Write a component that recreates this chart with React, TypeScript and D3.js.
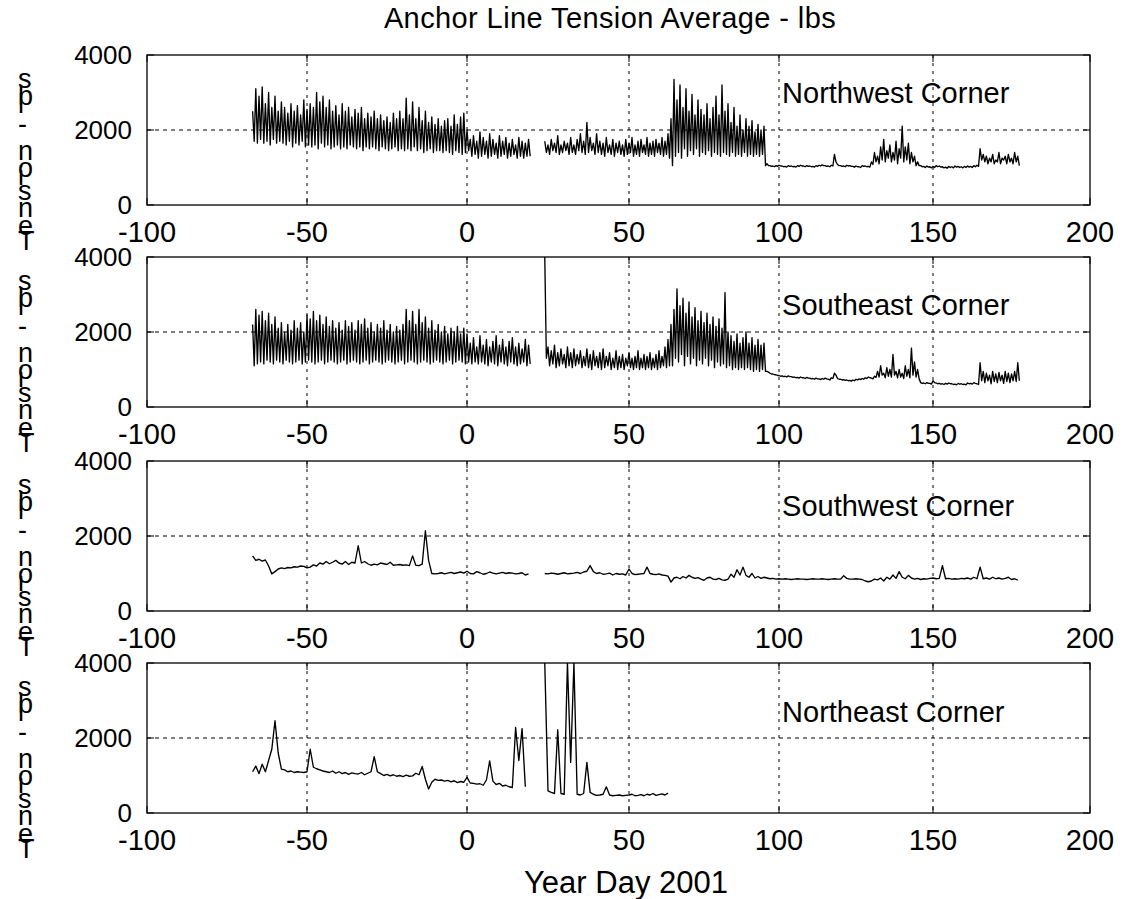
import React from 'react';
import * as d3 from 'd3';

// axis ticks
const xTicks = [-100, -50, 0, 50, 100, 150, 200];
const yTicks = [0, 2000, 4000];
const cornerNames = ['Northwest Corner', 'Southeast Corner', 'Southwest Corner', 'Northeast Corner'];

// records start here (day), second block starts after the data gap
const firstDay = -67;
const secondDay = 24;

// Northwest: daily peak / trough of the tension signal
const nwHigh1 = [
  2500, 3100, 2900, 3150, 2700, 3000, 2600, 2900, 2500, 2750,
  2600, 2450, 2700, 2500, 2650, 2400, 2800, 2550, 2700, 2600,
  3000, 2750, 2900, 2600, 2800, 2500, 2650, 2400, 2700, 2500,
  2600, 2350, 2550, 2450, 2600, 2300, 2450, 2350, 2500, 2300,
  2400, 2250, 2350, 2200, 2450, 2300, 2500, 2300, 2850, 2400,
  2750, 2300, 2600, 2250, 2500, 2200, 2350, 2150, 2300, 2100,
  2250, 2300, 2100, 2400, 2150, 2350, 2450, 2000, 1750, 1850,
  1700, 1950, 1800, 1700, 1900, 1750, 1650, 1850, 1700, 1800,
  1650, 1750, 1600, 1800, 1700, 1650, 1750,
];
const nwLow1 = [
  1700, 1650, 1750, 1650, 1700, 1600, 1750, 1650, 1700, 1650,
  1600, 1700, 1550, 1650, 1600, 1700, 1550, 1600, 1550, 1600,
  1500, 1650, 1550, 1600, 1500, 1550, 1600, 1500, 1550, 1500,
  1600, 1550, 1500, 1550, 1450, 1550, 1500, 1550, 1500, 1450,
  1550, 1500, 1450, 1500, 1550, 1450, 1500, 1450, 1500, 1450,
  1550, 1450, 1500, 1400, 1450, 1500, 1400, 1450, 1450, 1400,
  1450, 1400, 1350, 1450, 1400, 1350, 1400, 1450, 1300, 1350,
  1250, 1300, 1350, 1250, 1300, 1350, 1250, 1300, 1350, 1250,
  1300, 1350, 1250, 1300, 1250, 1300, 1300,
];
const nwHigh2 = [
  1700, 1600, 1750, 1650, 1850, 1600, 1700, 1650, 1800, 1600,
  1750, 1900, 1700, 2200, 1800, 1650, 1900, 1700, 1650, 1800,
  1600, 1750, 1650, 1700, 1600, 1750, 1650, 1800, 1600, 1700,
  1750, 1600, 1800, 1650, 1700, 1750, 1650, 1800, 1700, 1900,
  2300, 3350, 2800, 3200, 2600, 3100, 2500, 2950, 2400, 2800,
  2550, 2400, 2700, 2300, 2600, 2900, 2400, 3200, 2500, 2700,
  2200, 2600, 2100, 2400, 2000, 2300, 2100, 2250, 1950, 2150, 2000, 2100,
  1100, 1050, 1040, 1050, 1060, 1040, 1030, 1050, 1040, 1030,
  1050, 1060, 1040, 1050, 1040, 1030, 1050, 1060, 1070, 1050,
  1040, 1060, 1350, 1080, 1050, 1040, 1060, 1050, 1030, 1040,
  1020, 1050, 1040, 1030, 1150,
  1400, 1300, 1550, 1750, 1450, 1600, 1400, 1700, 1500, 2100, 1550, 1650, 1400, 1300, 1150,
  1050, 1030, 1040, 1020, 1030, 1050, 1040, 1020, 1010, 1030,
  1020, 1040, 1030, 1020, 1030, 1040, 1030, 1050, 1060,
  1500, 1350, 1300, 1250, 1350, 1200, 1400, 1250, 1300, 1350, 1250, 1400, 1300,
];
const nwLow2 = [
  1400, 1350, 1450, 1400, 1350, 1400, 1450, 1350, 1400, 1350,
  1450, 1400, 1350, 1400, 1450, 1350, 1400, 1350, 1300, 1400,
  1350, 1300, 1400, 1350, 1300, 1350, 1400, 1300, 1350, 1300,
  1400, 1350, 1300, 1350, 1300, 1400, 1350, 1300, 1350, 1250,
  1050, 1300, 1400, 1250, 1500, 1300, 1450, 1350, 1500, 1300,
  1400, 1350, 1450, 1300, 1400, 1350, 1300, 1400, 1350, 1300,
  1400, 1300, 1350, 1300, 1400, 1300, 1350, 1300, 1350, 1300, 1350, 1050,
  1050, 1030, 1020, 1030, 1040, 1020, 1010, 1030, 1020, 1010,
  1030, 1040, 1020, 1030, 1020, 1010, 1030, 1040, 1050, 1030,
  1020, 1040, 1150, 1050, 1030, 1020, 1040, 1030, 1010, 1020,
  1000, 1030, 1020, 1010, 1080,
  1150, 1100, 1200, 1150, 1250, 1150, 1200, 1100, 1250, 1150, 1200, 1100, 1150, 1050, 1050,
  1020, 1000, 1010, 990, 1000, 1020, 1010, 990, 980, 1000,
  990, 1010, 1000, 990, 1000, 1010, 1000, 1020, 1030,
  1200, 1150, 1100, 1150, 1100, 1150, 1100, 1200, 1100, 1150, 1100, 1150, 1050,
];

// Southeast
const seHigh1 = [
  2200, 2600, 2450, 2550, 2300, 2500, 2200, 2400, 2100, 2250,
  2000, 2200, 2050, 2300, 2100, 2250, 2000, 2450, 2350, 2550,
  2300, 2450, 2200, 2400, 2150, 2300, 2100, 2250, 2050, 2300,
  2150, 2250, 2050, 2300, 2200, 2350, 2100, 2250, 2000, 2200,
  2100, 2300, 2050, 2200, 2000, 2150, 2050, 2200, 2600, 2300,
  2550, 2200, 2600, 2250, 2400, 2100, 2300, 2050, 2200, 2000,
  2150, 1950, 2100, 2000, 2150, 1950, 2100, 1950, 1700, 1850,
  1600, 1900, 1650, 1800, 1600, 1750, 1900, 1650, 1800, 1600,
  1750, 1850, 1600, 1700, 1550, 1800, 1650,
];
const seLow1 = [
  1100, 1150, 1200, 1150, 1250, 1200, 1150, 1250, 1200, 1150,
  1250, 1200, 1150, 1200, 1250, 1150, 1200, 1250, 1200, 1150,
  1200, 1250, 1150, 1200, 1250, 1200, 1150, 1200, 1250, 1150,
  1200, 1250, 1200, 1150, 1200, 1250, 1150, 1200, 1250, 1200,
  1150, 1200, 1250, 1200, 1150, 1200, 1250, 1150, 1200, 1250,
  1200, 1150, 1200, 1250, 1200, 1150, 1200, 1250, 1200, 1150,
  1200, 1250, 1150, 1200, 1250, 1200, 1150, 1200, 1150, 1200,
  1150, 1200, 1150, 1100, 1200, 1150, 1100, 1200, 1150, 1100,
  1200, 1150, 1100, 1150, 1200, 1100, 1150,
];
const seHigh2 = [
  4000, 1600, 1500, 1650, 1450, 1550, 1400, 1600, 1450, 1550,
  1400, 1500, 1350, 1550, 1400, 1500, 1350, 1450, 1550, 1350,
  1450, 1300, 1500, 1350, 1400, 1300, 1450, 1300, 1350, 1500,
  1300, 1400, 1350, 1450, 1300, 1400, 1500, 1350, 1600, 1800,
  2200, 2600, 3150, 2700, 2900, 2500, 2800, 2400, 2650, 2300,
  2550, 2250, 2500, 2200, 2400, 2150, 2350, 2100, 3050, 2000,
  1900, 1750, 1950, 1700, 1850, 2000, 1700, 1850, 1650, 1800, 1650, 1700,
  950, 900, 880, 860, 840, 830, 820, 830, 810, 800,
  790, 800, 780, 790, 770, 760, 770, 750, 760, 770,
  740, 780, 900, 760, 740, 730, 720, 710, 720, 740,
  750, 760, 780, 800, 770, 820,
  950, 1100, 900, 1050, 1000, 1400, 950, 1000, 900, 1100, 1000, 1570, 1200, 1000,
  650, 640, 650, 630, 700, 640, 630, 620, 630, 640,
  620, 610, 630, 620, 610, 640, 630, 650, 620,
  1180, 950, 900, 850, 950, 880, 920, 850, 950, 900, 880, 950, 1180,
];
const seLow2 = [
  1300, 1100, 1150, 1050, 1100, 1150, 1050, 1100, 1050, 1100,
  1150, 1050, 1100, 1050, 1000, 1100, 1050, 1000, 1050, 1100,
  1000, 1050, 1000, 1050, 1000, 1100, 1050, 1000, 1050, 1000,
  1050, 1000, 1050, 1000, 1050, 1000, 1050, 1100, 1050, 1100,
  1100, 1300, 1200, 1400, 1100, 1350, 1150, 1300, 1100, 1250,
  1150, 1300, 1100, 1250, 1050, 1200, 1100, 1150, 1050, 1100,
  1000, 1050, 1000, 1050, 1000, 1050, 1000, 950, 1000, 950, 1000, 950,
  930, 880, 860, 840, 820, 810, 800, 810, 790, 780,
  770, 780, 760, 770, 750, 740, 750, 730, 740, 750,
  720, 760, 850, 740, 720, 710, 700, 690, 700, 720,
  730, 740, 760, 780, 750, 790,
  800, 850, 780, 820, 800, 850, 780, 800, 760, 820, 780, 850, 800, 750,
  630, 620, 630, 610, 650, 620, 610, 600, 610, 620,
  600, 590, 610, 600, 590, 620, 610, 630, 600,
  700, 650, 700, 620, 680, 650, 700, 630, 680, 650, 700, 680, 700,
];

// Southwest: daily values
const swVals1 = [
  1470, 1350, 1380, 1330, 1360, 1200, 990, 1050, 1120, 1150,
  1130, 1160, 1150, 1180, 1170, 1200, 1190, 1150, 1170, 1230,
  1200, 1280, 1250, 1320, 1260, 1300, 1350, 1280, 1250, 1320,
  1240, 1300, 1280, 1740, 1280, 1320, 1260, 1220, 1250, 1230,
  1280, 1260, 1240, 1300, 1220, 1230, 1240, 1220, 1230, 1210,
  1470, 1220, 1210, 1250, 2140, 1350, 1000, 990, 1000, 1020,
  990, 1010, 1030, 1000, 1020, 1040, 1010, 1060, 1000, 990,
  1050, 1020, 980, 1000, 1040, 1010, 990, 1010, 1030, 1000,
  1020, 1010, 990, 1000, 1020, 960, 990,
];
const swVals2 = [
  1000, 990, 1010, 1000, 980, 1000, 1020, 990, 1000, 1010,
  1030, 1000, 1040, 1060, 1210, 1050, 1000, 1020, 980, 990,
  1010, 960, 1000, 980, 990, 960, 1120, 1000, 970, 980,
  990, 1000, 1170, 1000, 980, 970, 990, 960, 950, 930,
  770, 880, 900, 860, 920, 880, 950, 900, 870, 890,
  850, 820, 880, 900, 850, 840, 870, 830, 820, 850,
  980, 900, 1100, 960, 1170, 950, 900, 1000, 880, 920,
  870, 900, 880, 860, 870, 850, 860, 850, 860, 850,
  840, 850, 860, 850, 850, 840, 850, 860, 850, 850,
  860, 850, 840, 850, 860, 850, 850, 940, 870, 850,
  850, 860, 850, 840, 800, 780, 800, 850, 830, 880,
  800, 900, 850, 960, 870, 1050, 900, 860, 950, 880,
  850, 870, 840, 860, 850, 870, 880, 860, 870, 1210,
  860, 870, 850, 860, 850, 870, 860, 880, 850, 900,
  860, 1170, 860, 880, 850, 900, 860, 880, 850, 870,
  900, 840, 860, 820,
];

// Northeast: daily values
const neVals1 = [
  1100, 1250, 1050, 1300, 1100, 1400, 1700, 2460, 1600, 1170,
  1150, 1100, 1120, 1080, 1100, 1090, 1080, 1100, 1700, 1220,
  1180, 1150, 1120, 1100, 1080, 1120, 1060, 1100, 1050, 1080,
  1030, 1070, 1050, 1040, 1080, 1020, 1060, 1100, 1500, 1100,
  1050, 1000, 1030, 990, 1020, 980, 1000, 970, 1010, 980,
  990, 1060, 1020, 1240, 900, 640, 820, 900, 870, 880,
  850, 870, 830, 860, 810, 840, 820, 950, 800, 790,
  770, 780, 740, 880, 1390, 850, 760, 790, 720, 740,
  700, 680, 2280, 1400, 2250, 700,
];
const neVals2 = [
  4000, 590, 550, 520, 2220, 520, 500, 4000, 1350, 4000,
  500, 480, 520, 1350, 550, 500, 470, 480, 500, 700,
  480, 460, 470, 480, 460, 470, 480, 500, 460, 470,
  490, 460, 500, 480, 520, 470, 490, 510, 480, 530,
];

const W = 1148;
const H = 899;
const plotH = 150;
const panelTops = [55, 257, 461, 663];
const cornerLabelY = [2720, 2450, 2530, 2430];
const font = '"Liberation Sans", Arial, Helvetica, sans-serif';

// one peak and one trough per day
const zigzag = (start: number, hi: number[], lo: number[]) =>
  hi.flatMap((h, i) => [[start + i, h], [start + i + 0.5, lo[i]]]);
const daily = (start: number, vals: number[]) => vals.map((v, i) => [start + i, v]);

const series = [
  [zigzag(firstDay, nwHigh1, nwLow1), zigzag(secondDay, nwHigh2, nwLow2)],
  [zigzag(firstDay, seHigh1, seLow1), zigzag(secondDay, seHigh2, seLow2)],
  [daily(firstDay, swVals1), daily(secondDay, swVals2)],
  [daily(firstDay, neVals1), daily(secondDay, neVals2)],
];

// the scanned axes are slightly uneven, so follow the printed tick positions
const x = d3.scaleLinear().domain(xTicks).range([147, 307, 467, 629, 779, 933, 1090]);
const plotLeft = x(-100);
const plotRight = x(200);

const Panel = ({ idx }: { idx: number }) => {
  const top = panelTops[idx];
  const y = d3.scaleLinear().domain([0, 4000]).range([top + plotH, top]);
  const line = d3.line<number[]>().x(d => x(d[0])).y(d => y(d[1]));
  const tick = 7;

  return (
    <g>
      <defs>
        <clipPath id={`clip${idx}`}>
          <rect x={plotLeft} y={top} width={plotRight - plotLeft} height={plotH} />
        </clipPath>
      </defs>
      {/* grid */}
      {xTicks.slice(1, -1).map(t => (
        <line key={'gx' + t} x1={x(t)} x2={x(t)} y1={top} y2={top + plotH}
          stroke="#000" strokeWidth={1} strokeDasharray="3,5" />
      ))}
      <line x1={plotLeft} x2={plotRight} y1={y(2000)} y2={y(2000)}
        stroke="#000" strokeWidth={1} strokeDasharray="4,4" />

      <g clipPath={`url(#clip${idx})`}>
        {series[idx].map((seg, i) => (
          <path key={i} d={line(seg) || ''} fill="none" stroke="#000" strokeWidth={1.35} strokeLinejoin="round" />
        ))}
      </g>

      <rect x={plotLeft} y={top} width={plotRight - plotLeft} height={plotH} fill="none" stroke="#000" strokeWidth={1.3} />

      {xTicks.map(t => (
        <g key={'tx' + t}>
          <line x1={x(t)} x2={x(t)} y1={top + plotH} y2={top + plotH - tick} stroke="#000" />
          <line x1={x(t)} x2={x(t)} y1={top} y2={top + tick} stroke="#000" />
          <text x={x(t)} y={top + plotH + 37} textAnchor="middle" fontSize={29} fontFamily={font}>{t}</text>
        </g>
      ))}
      {yTicks.map(t => (
        <g key={'ty' + t}>
          <line x1={plotLeft} x2={plotLeft + tick} y1={y(t)} y2={y(t)} stroke="#000" />
          <line x1={plotRight} x2={plotRight - tick} y1={y(t)} y2={y(t)} stroke="#000" />
          <text x={132} y={y(t)} dy="0.35em" textAnchor="end" fontSize={26} fontFamily={font}>{t}</text>
        </g>
      ))}

      <text x={x(101)} y={y(cornerLabelY[idx])} fontSize={29} fontFamily={font}>{cornerNames[idx]}</text>

      {/* y label: upright glyphs stacked bottom-to-top as in the print */}
      <text transform={`translate(18,${top + 195}) rotate(-90)`} rotate="90"
        fontSize={27} letterSpacing={2} fontFamily={font}>Tension - lbs</text>
    </g>
  );
};

export default function App() {
  return (
    <svg width={W} height={H} style={{ position: 'absolute', left: 0, top: 0, display: 'block', background: '#fff' }}>
      <rect width={W} height={H} fill="#fff" />
      <text x={610} y={28} textAnchor="middle" fontSize={29} letterSpacing={0.4} fontFamily={font}>
        Anchor Line Tension Average - lbs
      </text>
      {panelTops.map((_, i) => <Panel key={i} idx={i} />)}
      <text x={626} y={893} textAnchor="middle" fontSize={31} fontFamily={font}>Year Day 2001</text>
    </svg>
  );
}
